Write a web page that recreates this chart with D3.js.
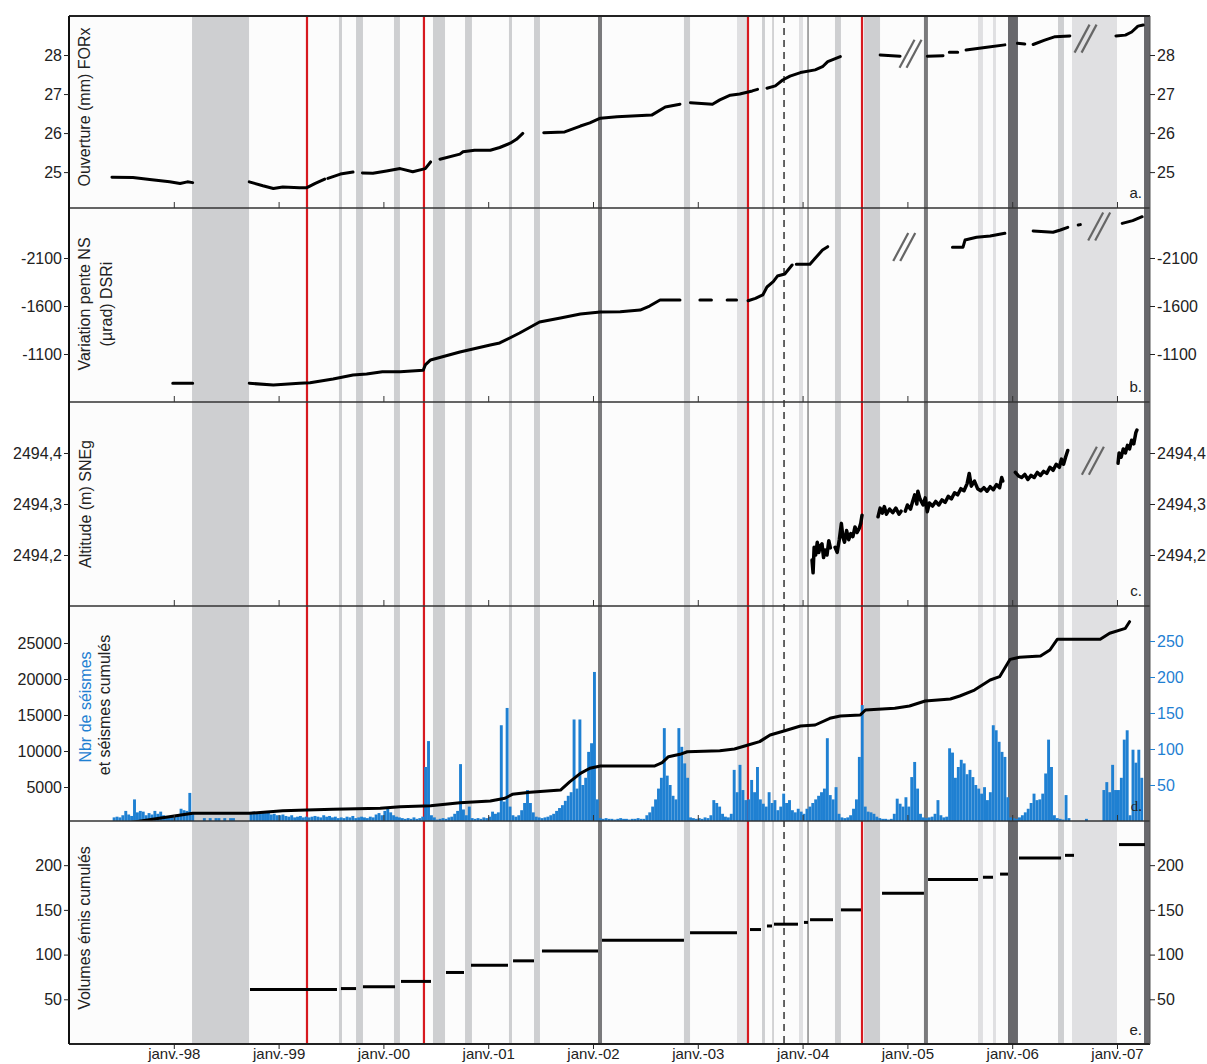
<!DOCTYPE html>
<html>
<head>
<meta charset="utf-8">
<script src="https://cdnjs.cloudflare.com/ajax/libs/d3/7.8.5/d3.min.js"></script>
<style>
  body { margin: 0; background: #fff; }
  svg { font-family: "Liberation Sans", Arial, sans-serif; }
  .tick text { fill: #222; }
</style>
</head>
<body>
<svg width="1207" height="1064"></svg>
<script>
// ---- time axis (decimal years) ----
const yearTicks = [1998, 1999, 2000, 2001, 2002, 2003, 2004, 2005, 2006, 2007];

// ---- event bands, decimal years [start, end] ----
const bandsMid = [[1998.174, 1998.718], [1999.576, 1999.605], [1999.739, 1999.805], [2000.101, 2000.158],
  [2000.473, 2000.588], [2000.779, 2000.845], [2001.198, 2001.227], [2001.437, 2001.494],
  [2002.868, 2002.926], [2003.613, 2003.641], [2004.309, 2004.366], [2004.586, 2004.739],
  [2006.437, 2006.494]];
const bandsPale = [[2003.374, 2003.479], [2003.966, 2004.004], [2005.674, 2005.721],
  [2005.817, 2005.845], [2006.571, 2007.0]];
const bandsDark = [[2002.048, 2002.086], [2005.158, 2005.196]];
const bandsDarker = [[2005.960, 2006.055], [2007.258, 2007.315]];
const eruptions = [1999.271, 2000.387, 2003.479, 2004.567];
const lightLines = [2003.718];
const greyLines = [2004.052];
const dashedLines = [2003.823];

// ---- a. opening FORx (mm) ----
const forx = [
  [1997.41, 24.87], [1997.61, 24.86], [1997.77, 24.81], [1997.96, 24.75], [1998.06, 24.71], [1998.13, 24.75], [1998.18, 24.73], null,
  [1998.72, 24.75], [1998.85, 24.65], [1998.95, 24.58], [1999.04, 24.62], [1999.20, 24.60], [1999.27, 24.60], [1999.35, 24.71], [1999.44, 24.82], null,
  [1999.47, 24.84], [1999.59, 24.95], [1999.71, 25.0], null,
  [1999.80, 24.98], [1999.90, 24.97], [2000.03, 25.03], [2000.16, 25.09], [2000.28, 25.01], [2000.40, 25.09], [2000.45, 25.26], null,
  [2000.54, 25.33], [2000.73, 25.46], [2000.76, 25.52], [2000.87, 25.56], [2001.02, 25.56], [2001.11, 25.63], [2001.21, 25.74], [2001.27, 25.84], [2001.33, 25.99], null,
  [2001.53, 26.01], [2001.73, 26.03], [2001.88, 26.18], [2001.97, 26.26], [2002.07, 26.38], [2002.23, 26.42], [2002.56, 26.46], [2002.69, 26.67], [2002.83, 26.74], null,
  [2002.93, 26.78], [2003.14, 26.74], [2003.21, 26.85], [2003.31, 26.97], [2003.40, 27.0], [2003.52, 27.08], [2003.57, 27.12], null,
  [2003.66, 27.15], [2003.74, 27.21], [2003.81, 27.36], [2003.88, 27.46], [2003.98, 27.55], [2004.12, 27.62], [2004.19, 27.7], [2004.24, 27.83], [2004.36, 27.96], null,
  [2004.74, 28.0], [2004.93, 27.97], null,
  [2005.19, 27.97], [2005.34, 27.98], null, [2005.40, 28.07], [2005.48, 28.07], null,
  [2005.56, 28.13], [2005.74, 28.19], [2005.93, 28.26], null,
  [2006.05, 28.3], [2006.12, 28.28], null, [2006.20, 28.27], [2006.31, 28.38], [2006.41, 28.47], [2006.55, 28.49], null,
  [2006.99, 28.49], [2007.08, 28.51], [2007.14, 28.59], [2007.20, 28.74], [2007.25, 28.77]
];

// ---- b. NS tilt DSRi (µrad) ----
const dsri = [
  [1997.99, -795], [1998.18, -795], null,
  [1998.72, -795], [1998.95, -777], [1999.20, -795], [1999.30, -801], [1999.52, -840], [1999.71, -881], [1999.84, -892],
  [1999.99, -916], [2000.16, -916], [2000.38, -930], [2000.40, -986], [2000.45, -1038], [2000.73, -1121], [2001.02, -1194],
  [2001.11, -1215], [2001.30, -1319], [2001.49, -1433], [2001.69, -1475], [2001.88, -1517], [2002.07, -1538], [2002.26, -1540],
  [2002.45, -1558], [2002.54, -1600], [2002.64, -1662], [2002.83, -1662], null,
  [2003.02, -1662], [2003.13, -1662], null,
  [2003.28, -1662], [2003.37, -1662], null,
  [2003.48, -1655], [2003.55, -1680], [2003.62, -1715], [2003.66, -1798], [2003.72, -1853], [2003.76, -1912], [2003.83, -1933], [2003.90, -2027], null,
  [2003.94, -2034], [2004.07, -2034], [2004.12, -2097], [2004.19, -2183], [2004.24, -2218], null,
  [2005.43, -2211], [2005.53, -2211], [2005.55, -2287], [2005.66, -2316], [2005.79, -2329], [2005.93, -2357], null,
  [2006.20, -2381], [2006.39, -2368], [2006.46, -2392], [2006.53, -2420], null,
  [2006.63, -2444], [2006.65, -2448], null,
  [2007.05, -2461], [2007.15, -2489], [2007.24, -2530]
];

// ---- c. GPS altitude SNEg (m) ----
const sneg = [
  [2004.090, 2494.190], [2004.100, 2494.165], [2004.110, 2494.215], [2004.125, 2494.200], [2004.140, 2494.225], [2004.155, 2494.205],
  [2004.170, 2494.218], [2004.185, 2494.222], [2004.200, 2494.195], [2004.215, 2494.210], [2004.233, 2494.200], [2004.250, 2494.228],
  [2004.265, 2494.214], null,
  [2004.31, 2494.215], [2004.33, 2494.205], [2004.35, 2494.230], [2004.37, 2494.262], [2004.385, 2494.235], [2004.40, 2494.225],
  [2004.42, 2494.248], [2004.44, 2494.230], [2004.46, 2494.242], [2004.48, 2494.236], [2004.50, 2494.255], [2004.52, 2494.244],
  [2004.54, 2494.252], [2004.555, 2494.262], [2004.567, 2494.278], null,
  [2004.72, 2494.275], [2004.74, 2494.292], [2004.76, 2494.282], [2004.78, 2494.295], [2004.80, 2494.280], [2004.83, 2494.290],
  [2004.86, 2494.283], [2004.89, 2494.292], [2004.92, 2494.280], [2004.94, 2494.286], null,
  [2004.98, 2494.286], [2005.00, 2494.298], [2005.03, 2494.290], [2005.05, 2494.305], [2005.07, 2494.318], [2005.09, 2494.300],
  [2005.10, 2494.325], [2005.12, 2494.310], [2005.15, 2494.298], [2005.17, 2494.312], [2005.19, 2494.285], [2005.21, 2494.302],
  [2005.24, 2494.296], [2005.27, 2494.305], [2005.30, 2494.298], [2005.33, 2494.308], [2005.36, 2494.303], [2005.39, 2494.315],
  [2005.42, 2494.310], [2005.45, 2494.322], [2005.48, 2494.318], [2005.51, 2494.330], [2005.54, 2494.326], [2005.57, 2494.340],
  [2005.59, 2494.360], [2005.61, 2494.335], [2005.64, 2494.345], [2005.67, 2494.330], [2005.70, 2494.326], [2005.73, 2494.332],
  [2005.76, 2494.325], [2005.79, 2494.334], [2005.82, 2494.328], [2005.85, 2494.338], [2005.88, 2494.332], [2005.90, 2494.352],
  [2005.91, 2494.345], null,
  [2006.03, 2494.362], [2006.06, 2494.355], [2006.09, 2494.352], [2006.12, 2494.358], [2006.15, 2494.348], [2006.18, 2494.356],
  [2006.21, 2494.352], [2006.24, 2494.362], [2006.27, 2494.356], [2006.30, 2494.364], [2006.33, 2494.360], [2006.36, 2494.372],
  [2006.39, 2494.366], [2006.42, 2494.378], [2006.45, 2494.372], [2006.47, 2494.388], [2006.49, 2494.378], [2006.51, 2494.392],
  [2006.53, 2494.405], null,
  [2007.01, 2494.380], [2007.02, 2494.400], [2007.04, 2494.392], [2007.06, 2494.408], [2007.08, 2494.400], [2007.10, 2494.415],
  [2007.12, 2494.408], [2007.14, 2494.425], [2007.16, 2494.418], [2007.18, 2494.440], [2007.19, 2494.445]
];

// ---- d. earthquakes: counts per 10-day bin (36 per year) ----
const binsPerYear = 36;
const quakes1997 = [0,0,0,0,0,0,0,0,0,0,0,0,0,0,0,5,6,5,8,14,9,7,30,12,14,13,8,11,9,14,10,13,8,7,6,8];
const quakes1998 = [7,9,17,15,14,39,10,0,0,0,4,0,4,0,4,4,0,4,0,4,4,0,0,0,0,0,10,13,12,10,13,11,12,9,10,8];
const quakes1999 = [8,9,7,6,8,5,6,7,5,6,5,6,7,6,5,8,6,7,5,6,4,5,4,6,5,7,4,5,6,5,4,6,5,9,11,8];
const quakes2000 = [14,18,12,8,6,5,4,3,4,3,5,3,4,6,75,111,8,5,2,3,4,3,5,6,10,14,79,16,8,20,4,3,4,3,5,4];
const quakes2001 = [6,13,10,12,133,27,157,20,8,6,8,15,25,43,25,12,6,5,4,5,6,8,10,14,18,22,28,35,40,141,45,141,50,60,96,108];
const quakes2002 = [207,30,4,3,4,3,3,2,3,4,3,3,2,3,3,4,3,3,8,12,20,30,45,60,129,63,50,35,30,129,103,80,60,5,4,3];
const quakes2003 = [4,3,5,4,8,29,25,20,10,6,5,10,71,40,78,43,29,30,57,40,75,30,24,20,40,25,29,15,20,38,25,29,15,12,17,13];
const quakes2004 = [10,17,20,25,30,35,40,45,115,36,30,47,10,5,4,5,8,17,30,89,161,20,13,12,10,6,4,3,3,2,3,10,31,24,20,33];
const quakes2005 = [20,61,82,45,10,5,4,5,6,10,29,8,5,6,101,95,60,75,85,80,65,71,61,50,45,38,47,29,40,133,126,110,96,89,33,5];
const quakes2006 = [4,3,5,8,12,17,25,38,29,30,38,66,113,75,8,4,3,2,36,4,0,0,0,0,0,3,0,0,0,0,0,43,54,40,78,43];
const quakes2007 = [43,60,113,126,8,99,81,99,60,0,0];

// cumulative earthquakes
const quakesCum = [
  [1997.41, 0], [1997.58, 50], [1998.18, 1340], [1998.72, 1340], [1999.04, 1710], [1999.27, 1800], [1999.52, 1900],
  [1999.97, 2040], [2000.16, 2270], [2000.45, 2410], [2000.73, 2820], [2001.02, 3050], [2001.16, 3430], [2001.23, 3980],
  [2001.40, 4260], [2001.69, 4580], [2001.78, 5740], [2001.88, 6900], [2001.97, 7600], [2002.07, 7920], [2002.59, 7920],
  [2002.66, 8380], [2002.72, 9210], [2002.83, 9540], [2002.90, 9900], [2003.21, 10040], [2003.35, 10280], [2003.48, 10830],
  [2003.59, 11300], [2003.69, 12220], [2003.83, 12820], [2003.98, 13470], [2004.12, 13610], [2004.26, 14540], [2004.36, 14860],
  [2004.55, 15000], [2004.60, 15690], [2004.88, 15930], [2005.02, 16250], [2005.17, 16940], [2005.41, 17220], [2005.50, 17640],
  [2005.64, 18470], [2005.79, 19860], [2005.88, 20320], [2005.98, 22730], [2006.07, 23010], [2006.27, 23190], [2006.36, 24030],
  [2006.43, 25510], [2006.84, 25510], [2006.93, 26350], [2007.08, 27040], [2007.12, 27960]
];

// ---- e. cumulated emitted volumes [start, end, value] ----
const volumes = [
  [1998.727, 1999.557, 61], [1999.595, 1999.739, 62], [1999.805, 2000.111, 64], [2000.168, 2000.454, 70],
  [2000.597, 2000.769, 80], [2000.836, 2001.189, 88], [2001.237, 2001.437, 93], [2001.513, 2002.048, 104],
  [2002.086, 2002.868, 116], [2002.926, 2003.374, 124.5], [2003.498, 2003.603, 128], [2003.660, 2003.708, 132],
  [2003.727, 2003.956, 134], [2004.013, 2004.052, 136], [2004.071, 2004.290, 139], [2004.366, 2004.557, 150],
  [2004.758, 2005.158, 168.5], [2005.197, 2005.674, 184], [2005.721, 2005.817, 186.5], [2005.884, 2005.960, 190],
  [2006.065, 2006.466, 208], [2006.504, 2006.590, 211], [2007.019, 2007.267, 223]
];

// data-gap markers "//" [year, value]
const breaksA = [[2005.03, 28.03], [2006.70, 28.42]];
const breaksB = [[2004.97, -2215], [2006.83, -2428]];
const breaksC = [[2006.77, 2494.385]];

// ---------------------------------------------------------------
const svg = d3.select("svg");
const L = 69, R = 1150, T = 16, B = 1044;
const x = d3.scaleLinear().domain([1997, 2007.315]).range([L, R]);

const yA = d3.scaleLinear().domain([24.08, 29.0]).range([208, 16]);
const yB = d3.scaleLinear().domain([-600, -2621]).range([402, 208]);
const yC = d3.scaleLinear().domain([2494.1, 2494.5]).range([606, 402]);
const yDcum = d3.scaleLinear().domain([0, 30139]).range([823, 606]);
const yDbar = d3.scaleLinear().domain([0, 298.6]).range([821, 606]);
const yE = d3.scaleLinear().domain([0, 249.4]).range([1044, 821]);

const panelEdges = [16, 208, 402, 606, 821, 1044];

svg.append("rect").attr("x", L).attr("y", T).attr("width", R - L).attr("height", B - T).attr("fill", "#fcfcfc");

// clip per panel
const defs = svg.append("defs");
panelEdges.slice(0, -1).forEach((y0, i) => {
  defs.append("clipPath").attr("id", "clip" + i)
    .append("rect").attr("x", L).attr("y", y0).attr("width", R - L).attr("height", panelEdges[i + 1] - y0);
});

// bands
const bandLayer = svg.append("g");
function drawBands(list, color) {
  bandLayer.selectAll(null).data(list).enter().append("rect")
    .attr("x", d => x(d[0])).attr("y", T)
    .attr("width", d => Math.max(1, x(d[1]) - x(d[0])))
    .attr("height", B - T).attr("fill", color);
}
drawBands(bandsPale, "#e0e0e2");
drawBands(bandsMid, "#cecfd1");
drawBands(bandsDark, "#7a7a7c");
drawBands(bandsDarker, "#68686c");

function vlines(list, color, width, dash) {
  bandLayer.selectAll(null).data(list).enter().append("line")
    .attr("x1", d => x(d)).attr("x2", d => x(d)).attr("y1", T).attr("y2", B)
    .attr("stroke", color).attr("stroke-width", width)
    .attr("stroke-dasharray", dash || null);
}
vlines(lightLines, "#c6c6c8", 1.5);
vlines(greyLines, "#8a8a8a", 1.5);
vlines(dashedLines, "#333", 1.5, "7,5");
vlines(eruptions, "#d7191f", 2.2);

// ---- d. bars ----
const quakeYears = [quakes1997, quakes1998, quakes1999, quakes2000, quakes2001, quakes2002,
  quakes2003, quakes2004, quakes2005, quakes2006, quakes2007];
const quakeBins = [];
quakeYears.forEach((arr, k) => arr.forEach((v, i) => quakeBins.push({ t: 1997 + k + i / binsPerYear, v })));
svg.append("g").attr("clip-path", "url(#clip3)")
  .selectAll("rect").data(quakeBins.filter(d => d.v > 0)).enter().append("rect")
  .attr("x", d => x(d.t))
  .attr("width", d => x(d.t + 1 / binsPerYear) - x(d.t))
  .attr("y", d => yDbar(d.v))
  .attr("height", d => yDbar(0) - yDbar(d.v))
  .attr("fill", "#1f80d2");

// series lines
function series(data, y, clip, width) {
  const line = d3.line().defined(d => d !== null).x(d => x(d[0])).y(d => y(d[1]));
  svg.append("path").attr("clip-path", "url(#" + clip + ")")
    .attr("d", line(data)).attr("fill", "none").attr("stroke", "#000")
    .attr("stroke-width", width).attr("stroke-linejoin", "round").attr("stroke-linecap", "round");
}
series(forx, yA, "clip0", 3);
series(dsri, yB, "clip1", 3);
series(sneg, yC, "clip2", 3.5);
series(quakesCum, yDcum, "clip3", 3);

// e. steps
svg.append("g").selectAll("line").data(volumes).enter().append("line")
  .attr("x1", d => x(d[0])).attr("x2", d => x(d[1]))
  .attr("y1", d => yE(d[2])).attr("y2", d => yE(d[2]))
  .attr("stroke", "#000").attr("stroke-width", 3);

// break markers
function breaks(list, y) {
  list.forEach(d => {
    const cx = x(d[0]), cy = y(d[1]);
    [-3.5, 3.5].forEach(o => {
      svg.append("line")
        .attr("x1", cx - 7.5 + o).attr("y1", cy + 14)
        .attr("x2", cx + 7.5 + o).attr("y2", cy - 14)
        .attr("stroke", "#666").attr("stroke-width", 2.2);
    });
  });
}
breaks(breaksA, yA);
breaks(breaksB, yB);
breaks(breaksC, yC);

// frame
const frame = svg.append("g");
panelEdges.slice(1, -1).forEach(y => {
  frame.append("line").attr("x1", L).attr("x2", R).attr("y1", y).attr("y2", y)
    .attr("stroke", "#333").attr("stroke-width", 1.5);
  frame.append("g").attr("transform", `translate(0,${y})`)
    .call(d3.axisBottom(x).tickValues(yearTicks).tickSize(-6).tickFormat(""))
    .call(g => g.select(".domain").remove())
    .selectAll("line").attr("stroke", "#333");
});
frame.append("line").attr("x1", L).attr("x2", R).attr("y1", T).attr("y2", T).attr("stroke", "#222").attr("stroke-width", 2);
frame.append("line").attr("x1", L).attr("x2", R).attr("y1", B).attr("y2", B).attr("stroke", "#222").attr("stroke-width", 2);
frame.append("line").attr("x1", L).attr("x2", L).attr("y1", T).attr("y2", B).attr("stroke", "#111").attr("stroke-width", 2);
frame.append("line").attr("x1", R).attr("x2", R).attr("y1", T).attr("y2", B).attr("stroke", "#555").attr("stroke-width", 1);

// axes
const plain = v => String(v);
const comma = v => d3.format(".1f")(v).replace(".", ",");
function yAxes(y, ticks, fmt, rightColor, rightScale, rightTicks) {
  const gl = svg.append("g").attr("transform", `translate(${L},0)`)
    .call(d3.axisLeft(y).tickValues(ticks).tickSize(5).tickPadding(2).tickFormat(fmt));
  gl.select(".domain").remove();
  gl.selectAll("text").attr("font-size", 16).attr("font-family", "Liberation Sans, Arial, sans-serif");
  gl.selectAll("line").attr("stroke", "#222");
  const gr = svg.append("g").attr("transform", `translate(${R},0)`)
    .call(d3.axisRight(rightScale || y).tickValues(rightTicks || ticks).tickSize(5).tickPadding(2)
      .tickFormat(rightScale ? plain : fmt));
  gr.select(".domain").remove();
  gr.selectAll("text").attr("font-size", 16).attr("font-family", "Liberation Sans, Arial, sans-serif")
    .style("fill", rightColor || "#222");
  gr.selectAll("line").attr("stroke", rightColor || "#222");
}
yAxes(yA, [25, 26, 27, 28], plain);
yAxes(yB, [-2100, -1600, -1100], plain);
yAxes(yC, [2494.2, 2494.3, 2494.4], comma);
yAxes(yDcum, [5000, 10000, 15000, 20000, 25000], plain, "#1f80d2", yDbar, [50, 100, 150, 200, 250]);
yAxes(yE, [50, 100, 150, 200], plain);

// bottom time axis
const gx = svg.append("g").attr("transform", `translate(0,${B})`)
  .call(d3.axisBottom(x).tickValues(yearTicks).tickSize(5).tickPadding(2)
    .tickFormat(d => "janv.-" + String(d).slice(2)));
gx.select(".domain").remove();
gx.selectAll("text").attr("font-size", 15).attr("font-family", "Liberation Sans, Arial, sans-serif")
  .attr("y", 15).attr("dy", null);
gx.selectAll("line").attr("stroke", "#222");

// axis titles
function vtext(txt, cx, cy, color) {
  svg.append("text").attr("transform", `translate(${cx},${cy}) rotate(-90)`)
    .attr("text-anchor", "middle").attr("dy", "0.35em")
    .attr("font-size", 16).attr("fill", color || "#222").text(txt);
}
vtext("Ouverture (mm) FORx", 84, 107);
vtext("Variation pente NS", 84, 304);
vtext("(µrad) DSRi", 106, 304);
vtext("Altitude (m) SNEg", 85, 504);
vtext("Nbr de séismes", 85, 707, "#1f80d2");
vtext("et séismes cumulés", 104, 705);
vtext("Volumes émis cumulés", 84, 928);

// panel letters
[["a.", 198], ["b.", 392], ["c.", 596], ["d.", 811], ["e.", 1035]].forEach(([t, y]) => {
  svg.append("text").attr("x", 1142).attr("y", y).attr("text-anchor", "end")
    .attr("font-size", 15).attr("fill", "#222")
    .attr("font-family", t === "d." ? "Liberation Serif, serif" : null).text(t);
});
</script>
</body>
</html>
